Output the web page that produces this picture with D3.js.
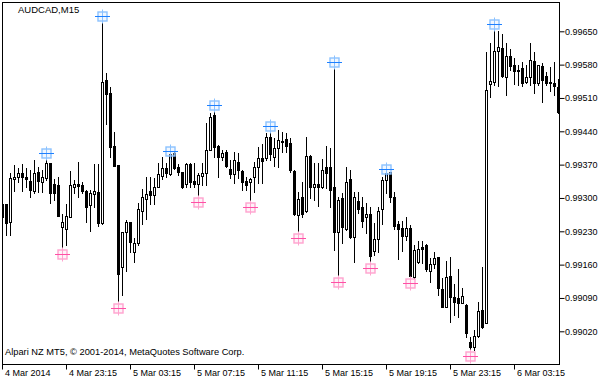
<!DOCTYPE html>
<html><head><meta charset="utf-8">
<script src="https://cdn.jsdelivr.net/npm/d3@7"></script>
<style>
html,body{margin:0;padding:0;background:#fff;}
svg{display:block;}
</style></head>
<body>
<svg id="chart" width="608" height="381"></svg>
<script>
const symbolTitle = "AUDCAD,M15";
const copyright = "Alpari NZ MT5, \u00A9 2001-2014, MetaQuotes Software Corp.";

const open = [0.99287,0.99287,0.99249,0.99339,0.99345,0.99352,0.99343,0.99336,0.99315,0.99354,
0.99334,0.99341,0.99373,0.99329,0.99327,0.99238,0.99234,0.99261,0.99324,0.99329,
0.99327,0.99315,0.99285,0.99308,0.99312,0.99247,0.99548,0.99520,0.99410,0.99369,
0.99156,0.99228,0.99249,0.99187,0.99205,0.99273,0.99298,0.99315,0.99306,0.99322,
0.99347,0.99362,0.99350,0.99394,0.99364,0.99354,0.99329,0.99371,0.99336,0.99329,
0.99347,0.99352,0.99401,0.99474,0.99409,0.99387,0.99396,0.99361,0.99350,0.99375,
0.99357,0.99336,0.99334,0.99345,0.99364,0.99383,0.99383,0.99427,0.99387,0.99404,
0.99417,0.99423,0.99415,0.99357,0.99264,0.99301,0.99273,0.99388,0.99324,0.99329,
0.99322,0.99364,0.99366,0.99322,0.99229,0.99299,0.99234,0.99340,0.99219,0.99294,
0.99280,0.99259,0.99266,0.99189,0.99213,0.99276,0.99338,0.99354,0.99301,0.99245,
0.99236,0.99220,0.99236,0.99135,0.99166,0.99196,0.99201,0.99147,0.99161,0.99175,
0.99108,0.99072,0.99136,0.99091,0.99089,0.99080,0.99075,0.98997,0.98988,0.99010,
0.99065,0.99038,0.99539,0.99544,0.99609,0.99614,0.99555,0.99598,0.99579,0.99567,
0.99572,0.99543,0.99553,0.99588,0.99541,0.99577,0.99556,0.99544,0.99541,0.99532];

const high = [0.99292,0.99288,0.99352,0.99369,0.99362,0.99371,0.99362,0.99359,0.99380,0.99366,
0.99359,0.99394,0.99374,0.99340,0.99345,0.99266,0.99287,0.99357,0.99338,0.99375,
0.99334,0.99317,0.99317,0.99371,0.99371,0.99683,0.99563,0.99534,0.99438,0.99370,
0.99229,0.99254,0.99250,0.99215,0.99289,0.99319,0.99343,0.99345,0.99341,0.99373,
0.99387,0.99373,0.99399,0.99397,0.99371,0.99355,0.99373,0.99373,0.99374,0.99352,
0.99373,0.99457,0.99478,0.99495,0.99411,0.99401,0.99401,0.99380,0.99396,0.99394,
0.99359,0.99345,0.99341,0.99376,0.99408,0.99413,0.99436,0.99452,0.99425,0.99443,
0.99438,0.99436,0.99425,0.99359,0.99313,0.99334,0.99429,0.99390,0.99373,0.99373,
0.99382,0.99410,0.99404,0.99586,0.99303,0.99310,0.99366,0.99359,0.99313,0.99313,
0.99303,0.99289,0.99280,0.99247,0.99282,0.99345,0.99361,0.99355,0.99312,0.99252,
0.99252,0.99261,0.99243,0.99201,0.99210,0.99210,0.99203,0.99173,0.99186,0.99176,
0.99131,0.99168,0.99175,0.99119,0.99151,0.99110,0.99077,0.99009,0.99023,0.99082,
0.99156,0.99607,0.99625,0.99665,0.99651,0.99644,0.99626,0.99613,0.99593,0.99579,
0.99585,0.99579,0.99625,0.99606,0.99580,0.99583,0.99565,0.99576,0.99585,0.99550];

const low = [0.99257,0.99222,0.99222,0.99315,0.99334,0.99315,0.99324,0.99301,0.99311,0.99312,
0.99313,0.99338,0.99289,0.99296,0.99262,0.99182,0.99201,0.99260,0.99310,0.99303,
0.99310,0.99249,0.99231,0.99282,0.99242,0.99246,0.99455,0.99387,0.99367,0.99068,
0.99096,0.99147,0.99186,0.99166,0.99201,0.99245,0.99256,0.99287,0.99287,0.99322,
0.99340,0.99345,0.99349,0.99361,0.99348,0.99320,0.99324,0.99324,0.99324,0.99292,
0.99327,0.99327,0.99400,0.99387,0.99343,0.99380,0.99366,0.99341,0.99331,0.99341,
0.99317,0.99317,0.99282,0.99313,0.99331,0.99331,0.99380,0.99380,0.99368,0.99364,
0.99397,0.99397,0.99355,0.99264,0.99215,0.99261,0.99271,0.99299,0.99296,0.99284,
0.99320,0.99320,0.99282,0.99191,0.99124,0.99205,0.99233,0.99215,0.99166,0.99268,
0.99240,0.99226,0.99152,0.99180,0.99187,0.99245,0.99311,0.99292,0.99235,0.99172,
0.99189,0.99212,0.99121,0.99131,0.99163,0.99163,0.99147,0.99124,0.99152,0.99096,
0.99071,0.99071,0.99040,0.99054,0.99051,0.99079,0.99009,0.98968,0.98981,0.99009,
0.99026,0.99037,0.99513,0.99537,0.99535,0.99555,0.99516,0.99569,0.99539,0.99537,
0.99536,0.99541,0.99537,0.99520,0.99537,0.99501,0.99537,0.99525,0.99516,0.99479];

const close = [0.99259,0.99247,0.99341,0.99345,0.99352,0.99343,0.99340,0.99317,0.99352,0.99336,
0.99345,0.99373,0.99311,0.99310,0.99263,0.99249,0.99263,0.99327,0.99329,0.99326,
0.99315,0.99280,0.99310,0.99315,0.99247,0.99543,0.99518,0.99408,0.99368,0.99140,
0.99228,0.99249,0.99207,0.99205,0.99276,0.99301,0.99308,0.99306,0.99322,0.99350,
0.99362,0.99352,0.99392,0.99362,0.99354,0.99324,0.99371,0.99334,0.99329,0.99348,
0.99352,0.99401,0.99469,0.99406,0.99387,0.99394,0.99368,0.99350,0.99380,0.99359,
0.99333,0.99327,0.99340,0.99364,0.99383,0.99378,0.99427,0.99392,0.99404,0.99422,
0.99420,0.99410,0.99359,0.99266,0.99297,0.99266,0.99388,0.99324,0.99329,0.99322,
0.99359,0.99352,0.99317,0.99228,0.99296,0.99238,0.99333,0.99219,0.99301,0.99277,
0.99252,0.99266,0.99179,0.99213,0.99273,0.99338,0.99352,0.99301,0.99242,0.99235,
0.99221,0.99236,0.99136,0.99191,0.99192,0.99193,0.99150,0.99161,0.99173,0.99110,
0.99072,0.99133,0.99091,0.99082,0.99080,0.99094,0.99016,0.98986,0.99010,0.99063,
0.99030,0.99527,0.99546,0.99609,0.99616,0.99556,0.99598,0.99578,0.99567,0.99569,
0.99542,0.99553,0.99590,0.99542,0.99579,0.99548,0.99541,0.99541,0.99536,0.99480];

// fractal bars (indices into the arrays above)
const upFractals = [11,25,42,53,67,83,96,123];
const downFractals = [15,29,49,62,74,84,92,102,117];

// axis ticks
const priceTicks = [0.99650,0.99580,0.99510,0.99440,0.99370,0.99300,0.99230,0.99160,0.99090,0.99020];
const timeTickBars = [0,16,32,48,64,80,96,112,128];
const timeTickLabels = ["4 Mar 2014","4 Mar 23:15","5 Mar 03:15","5 Mar 07:15","5 Mar 11:15","5 Mar 15:15","5 Mar 19:15","5 Mar 23:15","6 Mar 03:15"];

const svg = d3.select("#chart");
const FONT = "'Liberation Sans', Arial, sans-serif";
const L = 2, T = 2, R = 559, B = 364;

const x = d3.scaleLinear().domain([0, open.length - 1]).range([2, 558]);
const y = d3.scaleLinear().domain([0.99020, 0.99650]).range([331.3, 31.3]);

svg.append("defs").append("clipPath").attr("id","plot")
  .append("rect").attr("x", L + 1).attr("y", T + 1).attr("width", R - L - 1).attr("height", B - T - 1);

const plot = svg.append("g").attr("clip-path","url(#plot)");
const bars = d3.range(open.length);

const cg = plot.selectAll("g.c").data(bars).join("g").attr("class","c");
cg.each(function(i){
  const g = d3.select(this);
  const c = Math.round(x(i));
  const yh = Math.round(y(high[i])), yl = Math.round(y(low[i]));
  const bull = close[i] >= open[i];
  const yt = Math.round(y(Math.max(open[i], close[i])));
  const yb = Math.round(y(Math.min(open[i], close[i])));
  g.append("line").attr("x1", c + 0.5).attr("x2", c + 0.5)
    .attr("y1", yh).attr("y2", yl + 1).attr("stroke","#000").attr("stroke-width",1);
  if (yb - yt < 1) {
    g.append("line").attr("x1", c - 1).attr("x2", c + 2)
      .attr("y1", yt + 0.5).attr("y2", yt + 0.5).attr("stroke","#000");
  } else {
    g.append("rect").attr("x", c - 0.5).attr("y", yt + 0.5)
      .attr("width", 2).attr("height", yb - yt)
      .attr("fill", bull ? "#fff" : "#000").attr("stroke","#000").attr("stroke-width",1);
  }
});

function marker(i, price, main, light, tint){
  const cx = Math.round(x(i)) + 0.5, cy = Math.round(y(price)) + 0.5;
  const g = plot.append("g").attr("transform", `translate(${cx},${cy})`);
  g.append("rect").attr("x",-4.5).attr("y",-4.5).attr("width",9).attr("height",9)
    .attr("fill", tint).attr("fill-opacity",0.35).attr("stroke", light).attr("stroke-width",1.4);
  g.append("line").attr("x1",0).attr("x2",0).attr("y1",-7).attr("y2",7).attr("stroke", light).attr("stroke-width",1);
  g.append("line").attr("x1",-7.5).attr("x2",7.5).attr("y1",0).attr("y2",0).attr("stroke", main).attr("stroke-width",1);
}
upFractals.forEach(i => marker(i, high[i], "#1e80ff", "#8cc2ff", "#d4e9ff"));
downFractals.forEach(i => marker(i, low[i], "#ff4fa5", "#ffa3cf", "#ffdaec"));

// frame
svg.append("rect").attr("x", L + 0.5).attr("y", T + 0.5).attr("width", R - L).attr("height", B - T)
  .attr("fill","none").attr("stroke","#000").attr("stroke-width",1);

// price axis
const ya = svg.append("g").attr("transform", `translate(${R + 0.5},0)`)
  .call(d3.axisRight(y).tickValues(priceTicks).tickSize(5).tickPadding(0).tickFormat(d3.format(".5f")));
ya.select(".domain").remove();
ya.selectAll("line").attr("stroke","#000");
ya.selectAll("text").attr("fill","#000").attr("font-family",FONT).attr("font-size","9px").attr("x",5.5);

// time axis
const xa = svg.append("g").attr("transform", `translate(0,${B + 0.5})`)
  .call(d3.axisBottom(x).tickValues(timeTickBars).tickSize(5).tickFormat((d,k) => timeTickLabels[k]));
xa.select(".domain").remove();
xa.selectAll("line").attr("stroke","#000");
xa.selectAll("text").attr("fill","#000").attr("font-family",FONT).attr("font-size","9px")
  .attr("text-anchor","start").attr("x",2.5).attr("y",11.5).attr("dy",null);

svg.append("text").attr("x",18).attr("y",12.5).attr("font-family",FONT).attr("font-size","9.5px").attr("fill","#000").text(symbolTitle);
svg.append("text").attr("x",5).attr("y",355).attr("font-family",FONT).attr("font-size","9.3px").attr("fill","#000").text(copyright);
</script>
</body></html>
